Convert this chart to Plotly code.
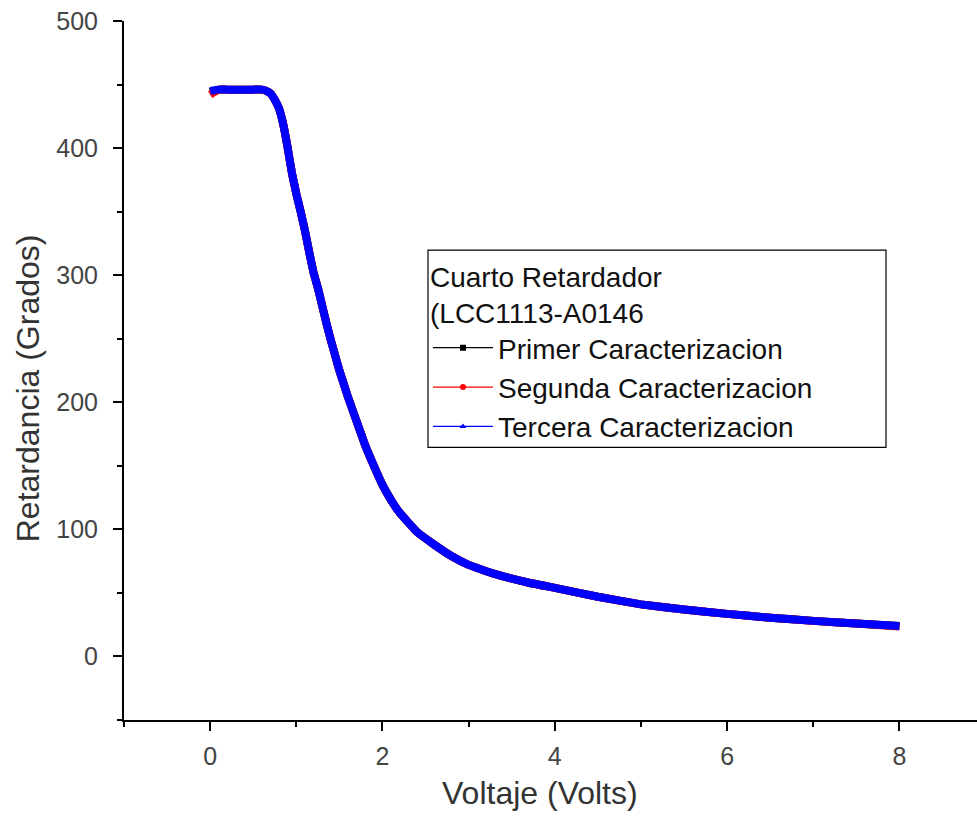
import plotly.graph_objects as go

# Data (Voltage in Volts, Retardance in degrees)
voltaje = [0.0, 0.1, 0.2, 0.3, 0.4, 0.5, 0.6, 0.65, 0.7, 0.75, 0.8, 0.85, 0.9, 0.95,
           1.0, 1.05, 1.1, 1.15, 1.2, 1.25, 1.3, 1.35, 1.4, 1.5, 1.6, 1.7, 1.8,
           1.9, 2.0, 2.1, 2.2, 2.4, 2.6, 2.8, 3.0, 3.3, 3.7, 4.0, 4.5, 5.0, 5.5, 6.0, 6.5,
           7.0, 7.5, 8.0]
primer = [444, 446, 446, 446, 446, 446, 446, 445, 443, 438, 431, 418, 400, 380,
          364, 350, 335, 318, 302, 290, 276, 262, 249, 225, 204, 185, 166,
          150, 135, 123, 113, 98, 88, 79, 72, 65, 58, 54, 47, 41, 37, 33.5, 30.5,
          28, 26, 24]
segunda = [442, 446, 446, 446, 446, 446, 446, 445, 443, 438, 431, 418, 400, 380,
           364, 350, 335, 318, 302, 290, 276, 262, 249, 225, 204, 185, 166,
           150, 135, 123, 113, 98, 88, 79, 72, 65, 58, 54, 47, 41, 37, 33.5, 30.5,
           28, 26, 23.5]
tercera = [445, 446, 446, 446, 446, 446, 446, 445, 443, 438, 431, 418, 400, 380,
           364, 350, 335, 318, 302, 290, 276, 262, 249, 225, 204, 185, 166,
           150, 135, 123, 113, 98, 88, 79, 72, 65, 58, 54, 47, 41, 37, 33.5, 30.5,
           28, 26, 24]

names = ["Primer Caracterizacion", "Segunda Caracterizacion", "Tercera Caracterizacion"]
colors = ["#000000", "#ff0000", "#0000ff"]
symbols = ["square", "circle", "triangle-up"]
series = [primer, segunda, tercera]

FONT = "Liberation Sans, Arial, sans-serif"

fig = go.Figure()
for name, col, vals in zip(names, colors, series):
    fig.add_trace(go.Scatter(
        x=voltaje, y=vals, mode="lines", name=name, showlegend=False,
        line=dict(color=col, width=8, shape="spline", smoothing=0.3),
    ))
for name, col, sym in zip(names, colors, symbols):
    fig.add_trace(go.Scatter(
        x=[None], y=[None], mode="lines+markers", name=name,
        line=dict(color=col, width=1.2),
        marker=dict(color=col, symbol=sym, size=6),
    ))

axis_common = dict(
    showline=True, linecolor="black", linewidth=2,
    ticks="outside", ticklen=9, tickwidth=2, tickcolor="black",
    showgrid=False, zeroline=False,
    tickfont=dict(family=FONT, size=25, color="#444444"),
)

# legend frame position (in pixels of the 977x823 page)
PL, PT, PW, PH = 124, 21, 853, 698.5


def px_x(p):
    return (p - PL) / PW


def px_y(p):
    return (PT + PH - p) / PH


fig.update_layout(
    width=977, height=823,
    margin=dict(l=124, r=0, t=21, b=103),
    paper_bgcolor="white", plot_bgcolor="white",
    xaxis=dict(range=[-1, 8.9], tick0=0, dtick=2, ticklabelstandoff=4,
               minor=dict(dtick=1, ticks="outside", ticklen=5, tickwidth=2, tickcolor="black"),
               **axis_common),
    yaxis=dict(range=[-50, 500], tick0=0, dtick=100, ticklabelstandoff=10,
               minor=dict(dtick=50, ticks="outside", ticklen=5, tickwidth=2, tickcolor="black"),
               **axis_common),
    legend=dict(
        x=px_x(428), y=px_y(250), xanchor="left", yanchor="top",
        bgcolor="rgba(0,0,0,0)", borderwidth=0,
        font=dict(family=FONT, size=28, color="#111111"),
        title=dict(text="Cuarto Retardador<br>(LCC1113-A0146",
                   font=dict(family=FONT, size=28, color="#111111")),
        itemwidth=60, tracegroupgap=0,
    ),
    shapes=[
        dict(type="rect", xref="paper", yref="paper",
             x0=px_x(428), x1=px_x(886), y0=px_y(447), y1=px_y(250),
             line=dict(color="black", width=1.2), fillcolor="white", layer="above"),
    ],
    annotations=[
        dict(text="Voltaje (Volts)", xref="paper", yref="paper",
             x=px_x(540), y=px_y(792),
             xanchor="center", yanchor="middle", showarrow=False,
             font=dict(family=FONT, size=32, color="#333333")),
        dict(text="Retardancia (Grados)", xref="paper", yref="paper",
             x=px_x(28), y=px_y(388), textangle=-90,
             xanchor="center", yanchor="middle", showarrow=False,
             font=dict(family=FONT, size=32, color="#333333")),
    ],
)

fig.write_html("out.html")
